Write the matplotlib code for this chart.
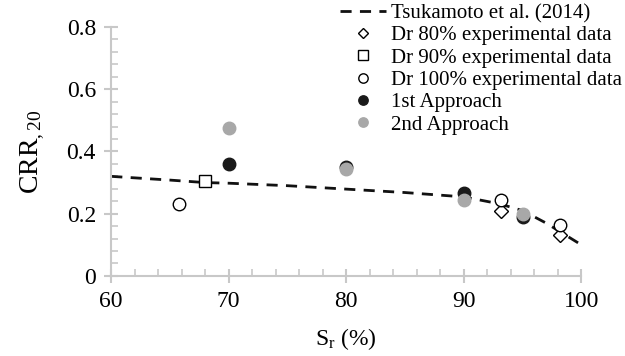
import matplotlib
matplotlib.use("Agg")
import matplotlib.pyplot as plt
from matplotlib.ticker import MultipleLocator

# Tsukamoto et al. (2014) curve
tsu_sr = [60, 65, 68, 70, 75, 80, 85, 90, 93, 95, 97, 100]
tsu_crr = [0.32, 0.308, 0.300, 0.298, 0.290, 0.279, 0.268, 0.254, 0.232, 0.210, 0.170, 0.100]

dr80_sr = [93.2, 98.2]
dr80_crr = [0.210, 0.130]
dr90_sr = [68.0]
dr90_crr = [0.305]
dr100_sr = [65.8, 93.2, 98.2]
dr100_crr = [0.230, 0.245, 0.165]

app1_sr = [70, 80, 90, 95]
app1_crr = [0.360, 0.350, 0.265, 0.190]
app2_sr = [70, 80, 90, 95]
app2_crr = [0.475, 0.345, 0.243, 0.198]

AXC = "#c8c8c8"
plt.rcParams.update({
    "font.family": "Liberation Serif",
    "mathtext.fontset": "custom",
    "mathtext.rm": "Liberation Serif",
    "mathtext.it": "Liberation Serif",
})

fig = plt.figure(figsize=(6.25, 3.56), dpi=100)
ax = fig.add_axes([0.178, 0.225, 0.752, 0.699])

ax.plot(tsu_sr, tsu_crr, "--", color="#111111", lw=2, dashes=(4, 3),
        label="Tsukamoto et al. (2014)")
ax.plot(dr80_sr, dr80_crr, "D", ms=7, mfc="white", mec="black", mew=1,
        ls="none", label="Dr 80% experimental data")
ax.plot(dr90_sr, dr90_crr, "s", ms=9, mfc="white", mec="black", mew=1,
        ls="none", label="Dr 90% experimental data")
ax.plot(dr100_sr, dr100_crr, "o", ms=9, mfc="white", mec="black", mew=1,
        ls="none", label="Dr 100% experimental data")
ax.plot(app1_sr, app1_crr, "o", ms=9, color="#1a1a1a", ls="none",
        label="1st Approach")
ax.plot(app2_sr, app2_crr, "o", ms=9, color="#a8a8a8", ls="none",
        label="2nd Approach")

ax.set_xlim(60, 100)
ax.set_ylim(0, 0.8)
ax.xaxis.set_major_locator(MultipleLocator(10))
ax.xaxis.set_minor_locator(MultipleLocator(2))
ax.yaxis.set_major_locator(MultipleLocator(0.2))
ax.yaxis.set_minor_locator(MultipleLocator(0.04))
ax.yaxis.set_major_formatter(matplotlib.ticker.FuncFormatter(
    lambda v, p: "0" if v == 0 else f"{v:.1f}"))

for s in ("top", "right"):
    ax.spines[s].set_visible(False)
for s in ("left", "bottom"):
    ax.spines[s].set_color(AXC)
    ax.spines[s].set_linewidth(1.5)
ax.tick_params(which="major", direction="inout", length=10, width=1.5,
               color=AXC, labelsize=17, pad=6)
ax.tick_params(which="minor", direction="in", length=5, width=1.2, color=AXC)

ax.set_xlabel("S$_{\\mathrm{r}}$ (%)", fontsize=17, labelpad=10)
ax.set_ylabel("CRR$_{,20}$", fontsize=20, labelpad=14)

ax.legend(loc="upper left", bbox_to_anchor=(0.544, 0.99),
          bbox_transform=fig.transFigure, frameon=False,
          fontsize=15, handlelength=2.2, handletextpad=0.25, labelspacing=0.13,
          borderaxespad=0, borderpad=0, markerscale=0.75)

fig.savefig("out.png", dpi=100)
